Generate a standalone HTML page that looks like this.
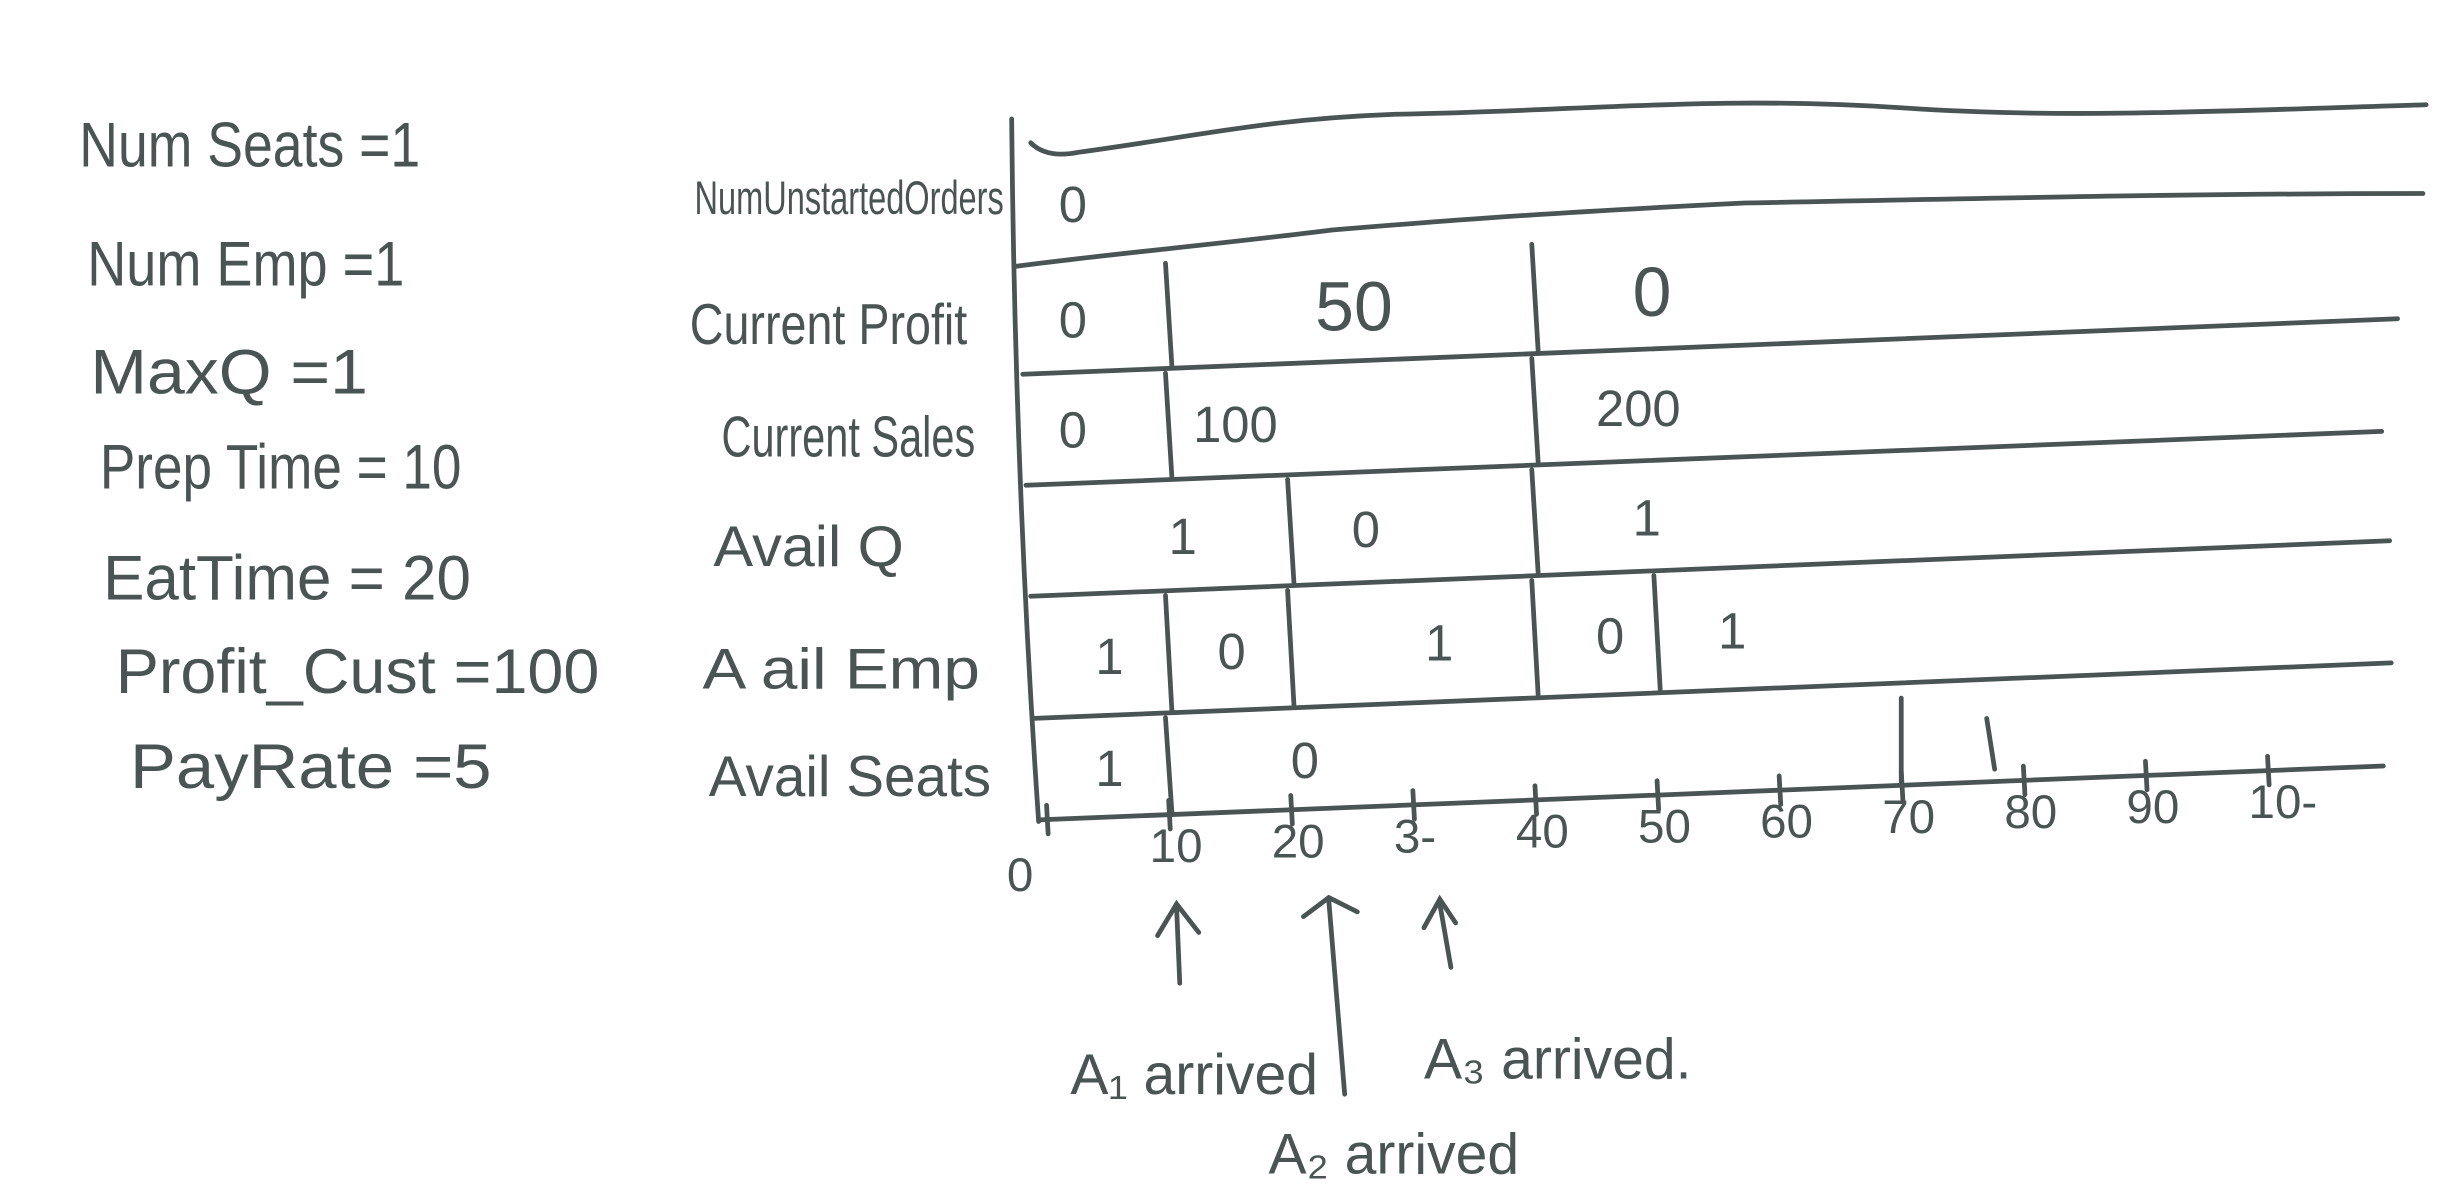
<!DOCTYPE html>
<html><head><meta charset="utf-8"><style>
html,body{margin:0;padding:0;background:#fff;}
svg{display:block}
text{font-family:"Liberation Sans Narrow","Liberation Sans",sans-serif;fill:#4a5453;}
</style></head><body>
<svg id="c" width="2461" height="1191" viewBox="0 0 1552 751" xmlns="http://www.w3.org/2000/svg">
<g font-size="40">
<text x="50" y="105" lengthAdjust="spacingAndGlyphs" textLength="215">Num Seats =1</text>
<text x="55" y="180" lengthAdjust="spacingAndGlyphs" textLength="200">Num Emp =1</text>
<text x="57" y="248" lengthAdjust="spacingAndGlyphs" textLength="175">MaxQ =1</text>
<text x="63" y="308" lengthAdjust="spacingAndGlyphs" textLength="228">Prep Time = 10</text>
<text x="65" y="378" lengthAdjust="spacingAndGlyphs" textLength="232">EatTime =  20</text>
<text x="73" y="437" lengthAdjust="spacingAndGlyphs" textLength="305">Profit_Cust =100</text>
<text x="82" y="497" lengthAdjust="spacingAndGlyphs" textLength="228">PayRate =5</text>
</g>
<g font-size="36">
<text x="438" y="135" font-size="30" lengthAdjust="spacingAndGlyphs" textLength="195">NumUnstartedOrders</text>
<text x="435" y="217" lengthAdjust="spacingAndGlyphs" textLength="175">Current Profit</text>
<text x="455" y="288" lengthAdjust="spacingAndGlyphs" textLength="160">Current Sales</text>
<text x="450" y="357" lengthAdjust="spacingAndGlyphs" textLength="120">Avail Q</text>
<text x="443" y="434" lengthAdjust="spacingAndGlyphs" textLength="175">A ail Emp</text>
<text x="447" y="502" lengthAdjust="spacingAndGlyphs" textLength="178">Avail Seats</text>
</g>
<g id="lines" fill="none" stroke="#4a5453" stroke-width="3" stroke-linecap="round">
<path d="M638 75 Q640 300 655 518"/>
<path d="M650 90 Q660 100 680 96 C760 85 800 75 880 72 C1000 70 1080 60 1200 68 C1300 75 1400 70 1530 66"/>
<path d="M640 168 C700 160 760 155 840 145 C900 140 960 135 1100 128 C1300 124 1400 122 1528 122"/>
<path d="M645 236 L1512 201"/>
<path d="M647 306 L1502 272"/>
<path d="M650 376 L1507 341"/>
<path d="M652 453 L1508 418"/>
<path d="M655 517 L1503 483"/>
</g>
<g id="dyn"></g>
<g fill="none" stroke="#4a5453" stroke-width="3" stroke-linecap="round">
<path d="M744 620 L742 572 M730 590 L742 570 L756 588"/>
<path d="M848 690 L838 568 M822 578 L838 566 L856 575"/>
<path d="M915 610 L908 570 M898 585 L908 567 L918 582"/>
</g>
<g font-size="36">
<text x="675" y="690">A₁ arrived</text>
<text x="800" y="740">A₂ arrived</text>
<text x="898" y="680">A₃ arrived.</text>
</g>
</svg>
<script>
const ticks=[0,10,20,30,40,50,60,70,80,90,100];
const tickLabels=["0","10","20","3-","40","50","60","70","80","90","10-"];
const rowNames=["unstarted","profit","sales","availq","availemp","availseats"];
const rowDividers=[[],[10,40],[10,40],[20,40],[10,20,40,50],[10]];
const rowValueTimes=[[1],[1,22,48],[1,12,45],[10,25,48],[4,14,31,45,55],[4,20]];
const rowValues=[["0"],["0","50","0"],["0","100","200"],["1","0","1"],["1","0","1","0","1"],["1","0"]];
const extraMarks=[70,77];
const NS="http://www.w3.org/2000/svg";
const dyn=document.getElementById('dyn');
function x(t){return 660+t*7.7;}
function lineY(x0,y0,x1,y1,xx){return y0+(y1-y0)*(xx-x0)/(x1-x0);}
const bounds=[[650,90,1530,66],[640,168,1528,122],[645,236,1512,201],[647,306,1502,272],[650,376,1507,341],[652,453,1508,418],[655,517,1503,483]];
function yb(i,xx){const b=bounds[i];return lineY(b[0],b[1],b[2],b[3],xx);}
function mk(tag,attrs){const e=document.createElementNS(NS,tag);for(const k in attrs)e.setAttribute(k,attrs[k]);dyn.appendChild(e);return e;}
ticks.forEach((t,i)=>{
  const xx=x(t),y=yb(6,xx);
  const l=mk('line',{x1:xx,y1:y-9,x2:xx+1,y2:y+9,stroke:'#4a5453','stroke-width':3,'stroke-linecap':'round'});
  
  
  const tx=mk('text',{x:xx-(i==0?25:12),y:y+(i==0?45:30),'font-size':30});
  tx.textContent=tickLabels[i];
  
  
});
rowNames.forEach((r,i)=>{
  rowDividers[i].forEach(t=>{
    const xx=x(t);
    const l=mk('line',{x1:xx-2,y1:yb(i,xx)+3,x2:xx+2,y2:yb(i+1,xx)-2,stroke:'#4a5453','stroke-width':3,'stroke-linecap':'round'});
    
    
  });
  rowValueTimes[i].forEach((t,j)=>{
    const xx=x(t);
    const mid=(yb(i,xx)+yb(i+1,xx))/2;
    const big=(i==1&&j>0);
    const tx=mk('text',{x:xx,y:mid+(big?15:12),'font-size':big?44:32});
    tx.textContent=rowValues[i][j];
    
    
  });
});
extraMarks.forEach((t,k)=>{
  const xx=x(t);
  const l=mk('line',{x1:xx,y1:yb(6,xx)-(k?40:55),x2:xx+(k?5:0),y2:yb(6,xx)-(k?8:2),stroke:'#4a5453','stroke-width':3,'stroke-linecap':'round'});
  
  
});
</script>
</body></html>
